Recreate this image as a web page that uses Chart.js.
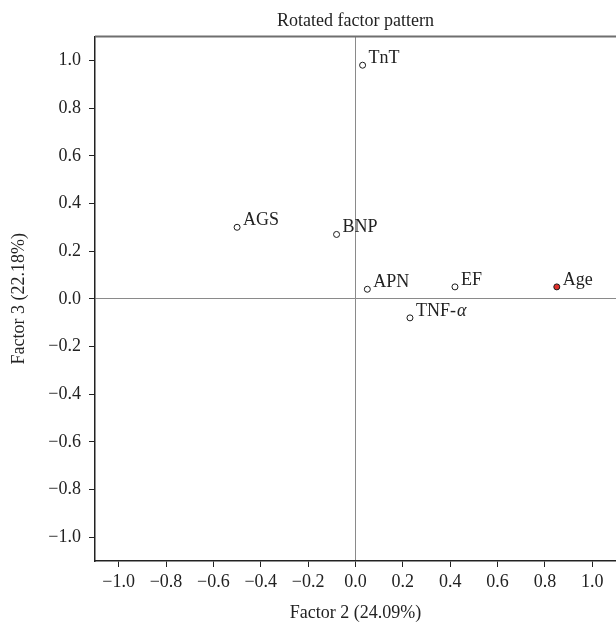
<!DOCTYPE html>
<html>
<head>
<meta charset="utf-8">
<script src="https://cdn.jsdelivr.net/npm/chart.js@4/dist/chart.umd.min.js"></script>
<style>
  html, body { margin: 0; padding: 0; background: #fff; overflow: hidden; }
  canvas { display: block; }
</style>
</head>
<body>
<canvas id="c" width="616" height="629"></canvas>
<script>
// loadings
const VARS    = ['TnT', 'AGS', 'BNP', 'APN', 'EF', 'TNF-', 'Age']
const FACTOR2 = [0.03, -0.50, -0.08, 0.05, 0.42, 0.23, 0.85]
const FACTOR3 = [0.98, 0.30, 0.27, 0.04, 0.05, -0.08, 0.05]
const TICKS   = [-1.0, -0.8, -0.6, -0.4, -0.2, 0.0, 0.2, 0.4, 0.6, 0.8, 1.0]

const FONT = "'Liberation Serif', 'DejaVu Serif', serif"
const INK = '#222'

const fmt = v => (v < 0 ? '\u2212' : '') + Math.abs(v).toFixed(1)

// labels next to each point, top border of the frame
const labelPlugin = {
  id: 'labels',
  afterDatasetsDraw(chart) {
    const { ctx, chartArea, scales: { x, y } } = chart
    ctx.save()
    ctx.strokeStyle = '#6f6f6f'
    ctx.lineWidth = 2
    ctx.beginPath()
    ctx.moveTo(chartArea.left, chartArea.top)
    ctx.lineTo(chartArea.right, chartArea.top)
    ctx.stroke()

    ctx.fillStyle = INK
    ctx.textBaseline = 'alphabetic'
    VARS.forEach((name, i) => {
      const px = x.getPixelForValue(FACTOR2[i]) + 6
      const py = y.getPixelForValue(FACTOR3[i]) - 2
      ctx.font = `18px ${FONT}`
      ctx.fillText(name, px, py)
      if (name === 'TNF-') {
        const w = ctx.measureText(name).width
        ctx.font = `italic 18px ${FONT}`
        ctx.fillText('\u03b1', px + w + 1, py)
      }
    })
    ctx.restore()
  }
}

const axisCommon = {
  type: 'linear',
  min: -1.1,
  max: 1.1,
  afterBuildTicks: axis => { axis.ticks = TICKS.map(v => ({ value: v })) },
  border: { color: INK, width: 1.5 },
  grid: {
    color: c => (c.tick && c.tick.value === 0 ? '#8a8a8a' : 'transparent'),
    lineWidth: 1,
    tickColor: INK,
    tickLength: 6,
    drawOnChartArea: true,
  },
  ticks: {
    color: INK,
    font: { family: FONT, size: 18 },
    callback: v => fmt(v),
    autoSkip: false,
    maxRotation: 0,
  },
}

new Chart(document.getElementById('c'), {
  type: 'scatter',
  data: {
    datasets: [{
      data: VARS.map((n, i) => ({ x: FACTOR2[i], y: FACTOR3[i] })),
      pointRadius: 3,
      pointHoverRadius: 3,
      pointBorderWidth: 1,
      pointBorderColor: '#1a1a1a',
      pointBackgroundColor: VARS.map(n => (n === 'Age' ? '#e0302c' : '#ffffff')),
    }],
  },
  options: {
    responsive: false,
    animation: false,
    layout: { padding: 0, autoPadding: false },
    plugins: {
      legend: { display: false },
      tooltip: { enabled: false },
      title: {
        display: true,
        text: 'Rotated factor pattern',
        fullSize: false,
        color: INK,
        font: { family: FONT, size: 18, weight: 'normal' },
        padding: { top: 10, bottom: 5 },
      },
    },
    scales: {
      x: {
        ...axisCommon,
        ticks: { ...axisCommon.ticks, padding: 4 },
        title: {
          display: true,
          text: 'Factor 2 (24.09%)',
          color: INK,
          font: { family: FONT, size: 18 },
          padding: { top: 0, bottom: 5 },
        },
        afterFit: s => { s.height = 68; s.paddingLeft = 0; s.paddingRight = 0 },
      },
      y: {
        ...axisCommon,
        ticks: { ...axisCommon.ticks, padding: 8 },
        title: {
          display: true,
          text: 'Factor 3 (22.18%)',
          color: INK,
          font: { family: FONT, size: 18 },
          padding: { top: 8, bottom: 0 },
        },
        afterFit: s => { s.width = 95; s.paddingTop = 0; s.paddingBottom = 0 },
      },
    },
  },
  plugins: [labelPlugin],
})
</script>
</body>
</html>
